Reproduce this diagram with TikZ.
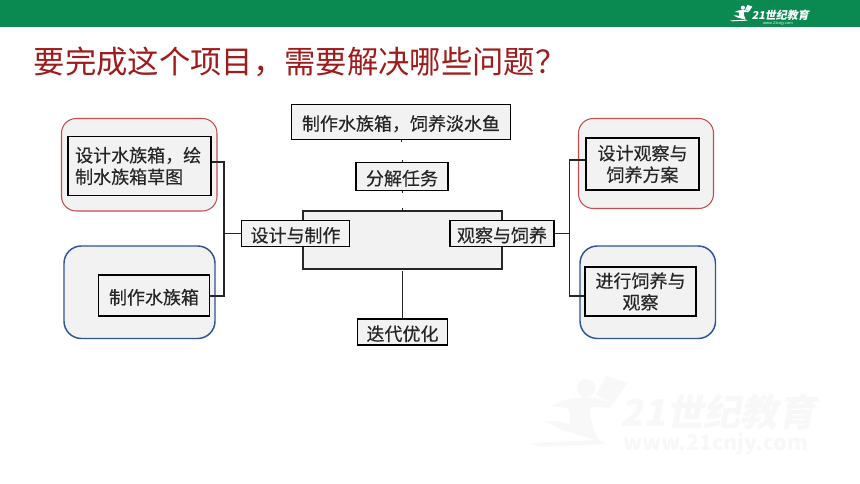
\documentclass[tikz,border=0pt]{standalone}
\usepackage{fontspec}
\setmainfont{Noto Sans CJK SC}
\newfontfamily\boxfont[FakeBold=0.35]{Noto Sans CJK SC}
\usetikzlibrary{positioning}
\definecolor{bargreen}{HTML}{0A8A50}
\definecolor{titlered}{HTML}{A01C1C}
\definecolor{panelgray}{HTML}{F2F2F2}
\definecolor{panelred}{HTML}{C0504D}
\definecolor{panelblue}{HTML}{2F5597}
\definecolor{inkgray}{HTML}{262626}
\definecolor{markgray}{HTML}{F8F8F8}
\tikzset{
  x=0.75pt,y=-0.75pt,
  redpanel/.style={draw=panelred,line width=0.8pt,fill=panelgray,rounded corners=11pt},
  bluepanel/.style={draw=panelblue,line width=1.1pt,fill=panelgray,rounded corners=13pt},
  taskbox/.style={draw=black,line width=1.2pt,fill=panelgray,inner sep=0pt,align=center,text=inkgray,
    font=\boxfont\fontsize{13.5}{16.2}\selectfont,execute at begin node={\rule{0pt}{14pt}}},
  thinbox/.style={taskbox,line width=0.9pt},
  hubbox/.style={draw=black!85,line width=1.1pt,fill=panelgray,inner sep=0pt},
  link/.style={draw=black!85,line width=1.05pt},
  stub/.style={draw=black!85,line width=0.7pt},
  pics/runner/.style={code={
    \fill[#1] (66,28) circle (9);
    \fill[#1] (86,16) -- (107,23) -- (93,44) -- (76,35) -- cycle;
    \fill[#1] (58,38) .. controls (70,36) and (80,38) .. (92,44) -- (88,48)
      .. controls (78,46) and (74,46) .. (70,48)
      .. controls (70,58) and (72,66) .. (78,80)
      .. controls (66,78) and (52,72) .. (42,70)
      .. controls (36,68) and (30,62) .. (24,62)
      .. controls (34,60) and (42,62) .. (50,64)
      .. controls (50,58) and (50,52) .. (48,48)
      .. controls (42,48) and (36,46) .. (30,47)
      .. controls (38,42) and (48,38) .. (58,38) -- cycle;
    \fill[#1] (10,83) -- (80,80) -- (87,84) -- (20,87) -- cycle;
  }}
}
\begin{document}
\begin{tikzpicture}
\useasboundingbox (0,0) rectangle (860,484);
\fill[white] (0,0) rectangle (860,484);

% Top bar with logo
\fill[bargreen] (0,0) rectangle (860,27.5);
\pic[scale=0.23] at (727.7,1.3) {runner=white};
\node[text=white,inner sep=0pt,xslant=0.2,font=\bfseries\fontsize{8.2}{9}\selectfont] (logotext) at (781,15) {21世纪教育};
\node[text=white,inner sep=0pt,font=\fontsize{2.8}{3}\selectfont] (logourl) at (778,23.5) {www.21cnjy.com};

% Watermark
\pic[scale=1] at (520,360) {runner=markgray};
\node[text=markgray,inner sep=0pt,xslant=0.2,font=\bfseries\fontsize{28}{30}\selectfont] (marktext) at (721,412) {21世纪教育};
\node[text=markgray,inner sep=0pt,font=\bfseries\fontsize{16}{17}\selectfont] (markurl) at (716,444) {www.21cnjy.com};

% Title
\node[text=titlered,inner sep=0pt,anchor=west,font=\fontsize{23.5}{26}\selectfont] (title) at (33.5,61.5) {要完成这个项目，需要解决哪些问题？};

% Panels
\draw[redpanel] (61.5,118.5) rectangle (217,211);
\draw[bluepanel] (64,246) rectangle (215,338.5);
\draw[redpanel] (578.5,118.5) rectangle (713.5,208.5);
\draw[bluepanel] (580,246) rectangle (715.5,338.5);
\node[hubbox,minimum width=149pt,minimum height=43.5pt] (hub) at (402.5,240) {};

% Boxes
\node[thinbox,minimum width=164pt,minimum height=26.5pt] (goal) at (401,122) {制作水族箱，饲养淡水鱼};
\node[thinbox,minimum width=69pt,minimum height=21.5pt] (split) at (402,176.5) {分解任务};
\node[thinbox,minimum width=80.5pt,minimum height=20pt] (build) at (295.5,233.5) {设计与制作};
\node[thinbox,minimum width=78pt,minimum height=20pt] (care) at (502,233.5) {观察与饲养};
\node[thinbox,minimum width=67.5pt,minimum height=19.5pt] (improve) at (402.5,332) {迭代优化};
\node[taskbox,align=left,minimum width=107pt,minimum height=44pt] (sketch) at (139.5,166) {设计水族箱，绘\hspace*{2pt}\\制水族箱草图};
\node[taskbox,minimum width=83pt,minimum height=30.5pt] (make) at (154,295.5) {制作水族箱};
\node[taskbox,minimum width=85pt,minimum height=39pt] (plan) at (642.5,164) {设计观察与\\饲养方案};
\node[taskbox,minimum width=83pt,minimum height=36.5pt] (feed) at (640.5,291.5) {进行饲养与\\观察};

% Connectors
\coordinate (lefttrunk) at (224,233.5);
\coordinate (righttrunk) at (569.5,233.5);
\draw[link] ([yshift=3pt]sketch.east) -| (lefttrunk);
\draw[link] ([yshift=-0.5pt]make.east) -| (lefttrunk);
\draw[link] (build.west) -- (lefttrunk);
\draw[link] (care.east) -- (righttrunk);
\draw[link] ([yshift=3pt]plan.west) -| (righttrunk);
\draw[link] ([yshift=-3.5pt]feed.west) -| (righttrunk);
\draw[link] (improve.north) -- ++(0,-47.5);
\draw[stub] (goal.south) -- ++(0,1.5);
\draw[stub] (split.north) -- ++(0,-2);
\draw[stub] (split.south) -- ++(0,2);
\draw[stub] (hub.north) -- ++(0,-2);
\end{tikzpicture}
\end{document}
